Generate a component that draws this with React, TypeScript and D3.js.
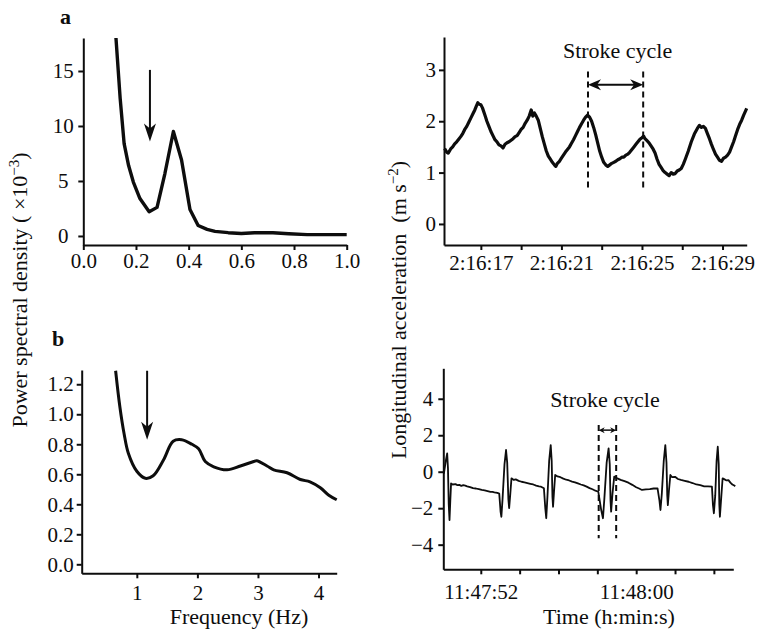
import * as d3 from "d3";
import React, { useEffect, useRef } from "react";

// panel a, left: power spectral density (x10^-3) vs frequency (Hz)
const psdA: [number, number][] = [
    [0.124, 18], [0.14, 12.5], [0.155, 8.4], [0.172, 6.4], [0.19, 4.9], [0.215, 3.4],
    [0.25, 2.2], [0.28, 2.6], [0.31, 5.7], [0.342, 9.5], [0.373, 6.9], [0.405, 2.4],
    [0.436, 0.95], [0.47, 0.6], [0.5, 0.42], [0.55, 0.3], [0.6, 0.22], [0.65, 0.3],
    [0.72, 0.3], [0.78, 0.2], [0.85, 0.12], [0.92, 0.12], [1.0, 0.12],
];
const psdATicks = [0, 5, 10, 15];
const freqATicks = [0, 0.2, 0.4, 0.6, 0.8, 1.0];

// panel a, right: longitudinal acceleration vs seconds after 2:16:00
const accA: [number, number][] = [
    [15.2, 1.47], [15.3, 1.4], [15.38, 1.38], [15.5, 1.46], [15.6, 1.5], [15.7, 1.56],
    [15.8, 1.6], [15.9, 1.65], [16.0, 1.7], [16.1, 1.76], [16.2, 1.84], [16.3, 1.9],
    [16.4, 1.98], [16.5, 2.06], [16.6, 2.14], [16.7, 2.22], [16.78, 2.3], [16.85, 2.36],
    [16.92, 2.33], [17.0, 2.32], [17.08, 2.26], [17.2, 2.12], [17.3, 2.0], [17.4, 1.9],
    [17.5, 1.8], [17.6, 1.72], [17.7, 1.64], [17.8, 1.6], [17.9, 1.54], [18.0, 1.52],
    [18.1, 1.48], [18.2, 1.55], [18.3, 1.58], [18.4, 1.6], [18.5, 1.63], [18.6, 1.66],
    [18.7, 1.7], [18.8, 1.72], [18.9, 1.78], [19.0, 1.84], [19.1, 1.88], [19.2, 1.96],
    [19.3, 2.02], [19.4, 2.1], [19.5, 2.22], [19.58, 2.1], [19.66, 2.16], [19.75, 2.1],
    [19.85, 2.02], [19.95, 1.86], [20.05, 1.7], [20.15, 1.56], [20.25, 1.42], [20.35, 1.32],
    [20.45, 1.26], [20.55, 1.2], [20.65, 1.15], [20.72, 1.12], [20.8, 1.18], [20.9, 1.22],
    [21.0, 1.28], [21.1, 1.34], [21.2, 1.4], [21.3, 1.45], [21.4, 1.5], [21.5, 1.57],
    [21.6, 1.64], [21.7, 1.72], [21.8, 1.8], [21.9, 1.88], [22.0, 1.95], [22.1, 2.02],
    [22.2, 2.08], [22.3, 2.12], [22.4, 2.08], [22.5, 2.0], [22.6, 1.88], [22.7, 1.74],
    [22.8, 1.58], [22.9, 1.42], [23.0, 1.3], [23.1, 1.2], [23.2, 1.15], [23.3, 1.12],
    [23.4, 1.15], [23.5, 1.18], [23.6, 1.2], [23.7, 1.22], [23.8, 1.25], [23.9, 1.27],
    [24.0, 1.3], [24.1, 1.3], [24.2, 1.34], [24.3, 1.36], [24.4, 1.4], [24.5, 1.45],
    [24.6, 1.5], [24.7, 1.55], [24.8, 1.6], [24.9, 1.65], [25.0, 1.68], [25.08, 1.71],
    [25.15, 1.66], [25.25, 1.62], [25.35, 1.58], [25.45, 1.52], [25.55, 1.46], [25.65, 1.38],
    [25.75, 1.26], [25.85, 1.16], [25.95, 1.1], [26.05, 1.04], [26.15, 1.0], [26.25, 0.97],
    [26.35, 0.94], [26.45, 1.0], [26.55, 0.97], [26.65, 0.98], [26.75, 1.03], [26.85, 1.05],
    [26.95, 1.08], [27.05, 1.16], [27.15, 1.26], [27.3, 1.42], [27.45, 1.6], [27.6, 1.75],
    [27.75, 1.86], [27.85, 1.92], [27.95, 1.88], [28.05, 1.9], [28.15, 1.86], [28.25, 1.76],
    [28.35, 1.66], [28.45, 1.55], [28.55, 1.45], [28.65, 1.36], [28.75, 1.3], [28.85, 1.24],
    [28.95, 1.22], [29.05, 1.28], [29.15, 1.3], [29.25, 1.34], [29.35, 1.4], [29.45, 1.5],
    [29.55, 1.6], [29.65, 1.72], [29.75, 1.84], [29.85, 1.94], [29.95, 2.02], [30.05, 2.12],
    [30.2, 2.25],
];
const accATicks = [0, 1, 2, 3];
const timeATicks = [17, 19, 21, 23, 25, 27, 29];
const timeALabels = [17, 21, 25, 29];

// panel b, left
const psdB: [number, number][] = [
    [0.65, 1.29], [0.72, 1.05], [0.79, 0.87], [0.86, 0.74], [1.0, 0.62], [1.14, 0.573],
    [1.27, 0.59], [1.44, 0.695], [1.6, 0.82], [1.74, 0.83], [1.91, 0.8], [2.02, 0.77],
    [2.13, 0.685], [2.27, 0.65], [2.49, 0.63], [2.71, 0.655], [2.93, 0.685], [2.98, 0.69],
    [3.15, 0.655], [3.26, 0.63], [3.48, 0.61], [3.7, 0.565], [3.86, 0.55], [4.03, 0.51],
    [4.17, 0.46], [4.3, 0.43],
];
const psdBTicks = [0, 0.2, 0.4, 0.6, 0.8, 1.0, 1.2];
const freqBTicks = [1, 2, 3, 4];

// panel b, right: seconds after 11:47:00
const accB: [number, number][] = [
    [50.1, -0.1], [50.2, 0.6], [50.27, 1.0], [50.31, 0.2], [50.35, -1.8], [50.39, -2.65],
    [50.43, -1.6], [50.47, -0.64], [50.55, -0.7], [50.7, -0.68], [50.8, -0.74], [50.9, -0.72],
    [51.0, -0.78], [51.1, -0.74], [51.2, -0.76], [51.3, -0.8], [51.45, -0.84], [51.6, -0.9],
    [51.75, -0.92], [51.9, -0.96], [52.05, -1.0], [52.2, -1.02], [52.35, -1.06], [52.5, -1.1],
    [52.6, -1.1], [52.7, -1.13], [52.85, -1.16], [52.95, -1.2], [53.02, -2.2], [53.06, -2.47],
    [53.12, -1.5], [53.22, 0.4], [53.3, 1.19], [53.36, 0.5], [53.42, -1.5], [53.46, -2.0],
    [53.52, -1.2], [53.58, -0.36], [53.7, -0.45], [53.8, -0.42], [53.95, -0.5], [54.1, -0.55],
    [54.25, -0.58], [54.4, -0.62], [54.55, -0.66], [54.7, -0.7], [54.85, -0.76], [55.0, -0.8],
    [55.1, -0.82], [55.25, -0.91], [55.32, -2.0], [55.37, -2.55], [55.43, -1.4], [55.52, 0.6],
    [55.6, 1.46], [55.65, 0.6], [55.69, -1.4], [55.72, -1.92], [55.77, -1.1], [55.83, -0.18],
    [55.95, -0.26], [56.1, -0.3], [56.25, -0.38], [56.4, -0.44], [56.55, -0.48], [56.7, -0.54],
    [56.85, -0.58], [57.0, -0.64], [57.15, -0.7], [57.3, -0.75], [57.45, -0.82], [57.6, -0.9],
    [57.75, -0.96], [57.9, -1.04], [58.05, -1.1], [58.2, -2.1], [58.29, -2.55], [58.36, -1.5],
    [58.48, 0.5], [58.58, 1.28], [58.64, 0.4], [58.68, -1.6], [58.71, -2.19], [58.78, -1.2],
    [58.87, -0.27], [59.0, -0.35], [59.2, -0.45], [59.4, -0.52], [59.6, -0.6], [59.8, -0.72],
    [60.0, -0.85], [60.15, -0.92], [60.3, -1.0], [60.5, -0.97], [60.7, -0.95], [60.9, -0.92],
    [61.1, -0.91], [61.2, -1.6], [61.25, -2.1], [61.32, -1.2], [61.42, 0.6], [61.5, 1.46],
    [61.56, 0.5], [61.6, -1.3], [61.63, -1.83], [61.69, -1.0], [61.76, -0.18], [61.85, -0.3],
    [62.0, -0.28], [62.15, -0.4], [62.3, -0.45], [62.5, -0.5], [62.7, -0.55], [62.9, -0.62],
    [63.1, -0.7], [63.3, -0.74], [63.5, -0.8], [63.7, -0.8], [63.9, -0.82], [63.95, -1.8],
    [64.0, -2.28], [64.07, -1.3], [64.14, 0.6], [64.2, 1.37], [64.25, 0.4], [64.28, -1.8],
    [64.31, -2.47], [64.38, -1.4], [64.45, -0.36], [64.55, -0.42], [64.65, -0.48], [64.75, -0.46],
    [64.85, -0.6], [64.95, -0.7], [65.05, -0.76], [65.1, -0.8],
];
const accBTicks = [-4, -2, 0, 2, 4];
const timeBTicks = [52, 54, 56, 58, 60, 62, 64];
const timeBLabels = [52, 60];

// stroke-cycle markers [start, end] in seconds, and frequency arrows
const cycleA = [22.32, 25.06];
const cycleB = [58.07, 58.97];
const arrowAFreq = 0.253;
const arrowBFreq = 1.17;

const FONT = "'Liberation Serif', 'Times New Roman', Times, serif";
const INK = "#0d0d0d";

export default function App() {
    const ref = useRef<SVGSVGElement>(null);

    useEffect(() => {
        const svg = d3.select(ref.current);
        svg.selectAll("*").remove();
        svg.attr("font-family", FONT);

        const styleAxis = (g: any, fs = 21) => {
            g.attr("font-family", FONT).attr("font-size", fs);
            g.select(".domain").attr("stroke-width", 2).attr("stroke", INK);
            g.selectAll(".tick line").attr("stroke-width", 2).attr("stroke", INK);
            g.selectAll(".tick text").attr("fill", INK);
        };

        const line = (x: any, y: any, curve: any = d3.curveLinear) =>
            d3.line<[number, number]>().x((d) => x(d[0])).y((d) => y(d[1])).curve(curve);

        const downArrow = (xp: number, y1: number, y2: number) => {
            svg.append("line")
                .attr("x1", xp).attr("x2", xp)
                .attr("y1", y1).attr("y2", y2 - 12)
                .attr("stroke", INK).attr("stroke-width", 2);
            svg.append("path")
                .attr("d", `M${xp},${y2} L${xp - 6},${y2 - 18} L${xp},${y2 - 13} L${xp + 6},${y2 - 18} Z`)
                .attr("fill", INK);
        };

        const doubleArrow = (xa: number, xb: number, yp: number, hl: number, hw: number, sw: number) => {
            svg.append("line")
                .attr("x1", xa + hl * 0.6).attr("x2", xb - hl * 0.6)
                .attr("y1", yp).attr("y2", yp)
                .attr("stroke", INK).attr("stroke-width", sw);
            svg.append("path")
                .attr("d", `M${xa},${yp} L${xa + hl},${yp - hw / 2} L${xa + hl * 0.7},${yp} L${xa + hl},${yp + hw / 2} Z`)
                .attr("fill", INK);
            svg.append("path")
                .attr("d", `M${xb},${yp} L${xb - hl},${yp - hw / 2} L${xb - hl * 0.7},${yp} L${xb - hl},${yp + hw / 2} Z`)
                .attr("fill", INK);
        };

        // ---------- panel a, left ----------
        const xA = d3.scaleLinear().domain([0, 1]).range([83.3, 346.7]);
        const yA = d3.scaleLinear().domain([-0.82, 18]).range([245, 38]);
        svg.append("g").attr("transform", "translate(0,245)")
            .call(d3.axisBottom(xA).tickValues(freqATicks).tickFormat(d3.format(".1f")).tickSize(5).tickSizeOuter(0).tickPadding(3))
            .call((g) => styleAxis(g));
        svg.append("g").attr("transform", "translate(83.3,0)")
            .call(d3.axisLeft(yA).tickValues(psdATicks).tickFormat(d3.format("d")).tickSize(5).tickSizeOuter(0))
            .call((g) => styleAxis(g))
            .call((g) => g.selectAll(".tick text").attr("text-anchor", "middle").attr("x", -20));
        svg.append("path").datum(psdA)
            .attr("d", line(xA, yA))
            .attr("fill", "none").attr("stroke", INK).attr("stroke-width", 3.4)
            .attr("stroke-linejoin", "round");
        downArrow(xA(arrowAFreq), yA(15.1), yA(8.6));
        svg.append("text").attr("x", 60).attr("y", 24)
            .attr("font-weight", "bold").attr("font-size", 22).attr("fill", INK).text("a");

        // ---------- panel a, right ----------
        const xAR = d3.scaleLinear().domain([15.17, 30.2]).range([444, 746.7]);
        const yAR = d3.scaleLinear().domain([-0.41, 3.64]).range([245, 37]);
        svg.append("g").attr("transform", "translate(0,245)")
            .call(d3.axisBottom(xAR).tickValues(timeATicks)
                .tickFormat((d: any) => (timeALabels.includes(d) ? `2:16:${d}` : ""))
                .tickSize(5).tickSizeOuter(0).tickPadding(5))
            .call((g) => styleAxis(g));
        svg.append("g").attr("transform", "translate(444,0)")
            .call(d3.axisLeft(yAR).tickValues(accATicks).tickFormat(d3.format("d")).tickSize(5).tickSizeOuter(0).tickPadding(3))
            .call((g) => styleAxis(g));
        svg.append("path").datum(accA)
            .attr("d", line(xAR, yAR))
            .attr("fill", "none").attr("stroke", INK).attr("stroke-width", 3.2)
            .attr("stroke-linejoin", "round");
        cycleA.forEach((t) => {
            svg.append("line")
                .attr("x1", xAR(t)).attr("x2", xAR(t))
                .attr("y1", yAR(2.97)).attr("y2", yAR(0.66))
                .attr("stroke", INK).attr("stroke-width", 2).attr("stroke-dasharray", "6,4");
        });
        doubleArrow(xAR(cycleA[0]), xAR(cycleA[1]), yAR(2.71), 13, 11, 2);
        svg.append("text")
            .attr("x", (xAR(cycleA[0]) + xAR(cycleA[1])) / 2 + 2).attr("y", 58)
            .attr("text-anchor", "middle").attr("font-size", 22).attr("fill", INK)
            .text("Stroke cycle");

        // ---------- panel b, left ----------
        const xB = d3.scaleLinear().domain([0.09, 4.3]).range([81.7, 336.7]);
        const yB = d3.scaleLinear().domain([-0.06, 1.295]).range([573.3, 370]);
        svg.append("g").attr("transform", "translate(0,573.3)")
            .call(d3.axisBottom(xB).tickValues(freqBTicks).tickFormat(d3.format("d")).tickSize(5).tickSizeOuter(0).tickPadding(7))
            .call((g) => styleAxis(g));
        svg.append("g").attr("transform", "translate(81.7,0)")
            .call(d3.axisLeft(yB).tickValues(psdBTicks).tickFormat(d3.format(".1f")).tickSize(5).tickSizeOuter(0).tickPadding(3))
            .call((g) => styleAxis(g));
        svg.append("path").datum(psdB)
            .attr("d", line(xB, yB, d3.curveCatmullRom))
            .attr("fill", "none").attr("stroke", INK).attr("stroke-width", 3)
            .attr("stroke-linejoin", "round");
        downArrow(xB(arrowBFreq), yB(1.29), yB(0.83));
        svg.append("text").attr("x", 52).attr("y", 346)
            .attr("font-weight", "bold").attr("font-size", 22).attr("fill", INK).text("b");

        // ---------- panel b, right ----------
        const xBR = d3.scaleLinear().domain([50.07, 65.0]).range([443.3, 733.3]);
        const yBR = d3.scaleLinear().domain([-5.35, 5.67]).range([569.3, 368.3]);
        svg.append("g").attr("transform", "translate(0,569.3)")
            .call(d3.axisBottom(xBR).tickValues(timeBTicks)
                .tickFormat((d: any) => (timeBLabels.includes(d) ? (d < 60 ? `11:47:${d}` : `11:48:${d3.format("02")(d - 60)}`) : ""))
                .tickSize(5).tickSizeOuter(0).tickPadding(10))
            .call((g) => styleAxis(g));
        svg.append("g").attr("transform", "translate(443.3,0)")
            .call(d3.axisLeft(yBR).tickValues(accBTicks).tickFormat(d3.format("d")).tickSize(5).tickSizeOuter(0).tickPadding(5))
            .call((g) => styleAxis(g));
        svg.append("path").datum(accB)
            .attr("d", line(xBR, yBR))
            .attr("fill", "none").attr("stroke", INK).attr("stroke-width", 1.8)
            .attr("stroke-linejoin", "round");
        cycleB.forEach((t) => {
            svg.append("line")
                .attr("x1", xBR(t)).attr("x2", xBR(t))
                .attr("y1", yBR(2.56)).attr("y2", yBR(-3.65))
                .attr("stroke", INK).attr("stroke-width", 2).attr("stroke-dasharray", "6,4");
        });
        doubleArrow(xBR(cycleB[0]), xBR(cycleB[1]), yBR(2.28), 6, 6, 1.5);
        svg.append("text")
            .attr("x", 605).attr("y", 407)
            .attr("text-anchor", "middle").attr("font-size", 22).attr("fill", INK)
            .text("Stroke cycle");

        // ---------- axis titles ----------
        const ylab = svg.append("text")
            .attr("transform", "translate(27,290) rotate(-90)")
            .attr("text-anchor", "middle").attr("font-size", 22).attr("fill", INK);
        ylab.append("tspan").text("Power spectral density ( ×10");
        ylab.append("tspan").attr("dy", -8).attr("font-size", 15).text("−3");
        ylab.append("tspan").attr("dy", 8).text(")");

        const ylab2 = svg.append("text")
            .attr("transform", "translate(406,310) rotate(-90)")
            .attr("text-anchor", "middle").attr("font-size", 22).attr("fill", INK)
            .style("white-space", "pre");
        ylab2.append("tspan").text("Longitudinal acceleration  (m s");
        ylab2.append("tspan").attr("dy", -8).attr("font-size", 15).text("−2");
        ylab2.append("tspan").attr("dy", 8).text(")");

        svg.append("text").attr("x", 239).attr("y", 624)
            .attr("text-anchor", "middle").attr("font-size", 22).attr("fill", INK)
            .text("Frequency (Hz)");
        svg.append("text").attr("x", 609).attr("y", 624)
            .attr("text-anchor", "middle").attr("font-size", 22).attr("fill", INK)
            .text("Time (h:min:s)");
    }, []);

    return (
        <svg
            ref={ref}
            width={762}
            height={631}
            style={{ position: "absolute", left: 0, top: 0, background: "#fff" }}
        />
    );
}
